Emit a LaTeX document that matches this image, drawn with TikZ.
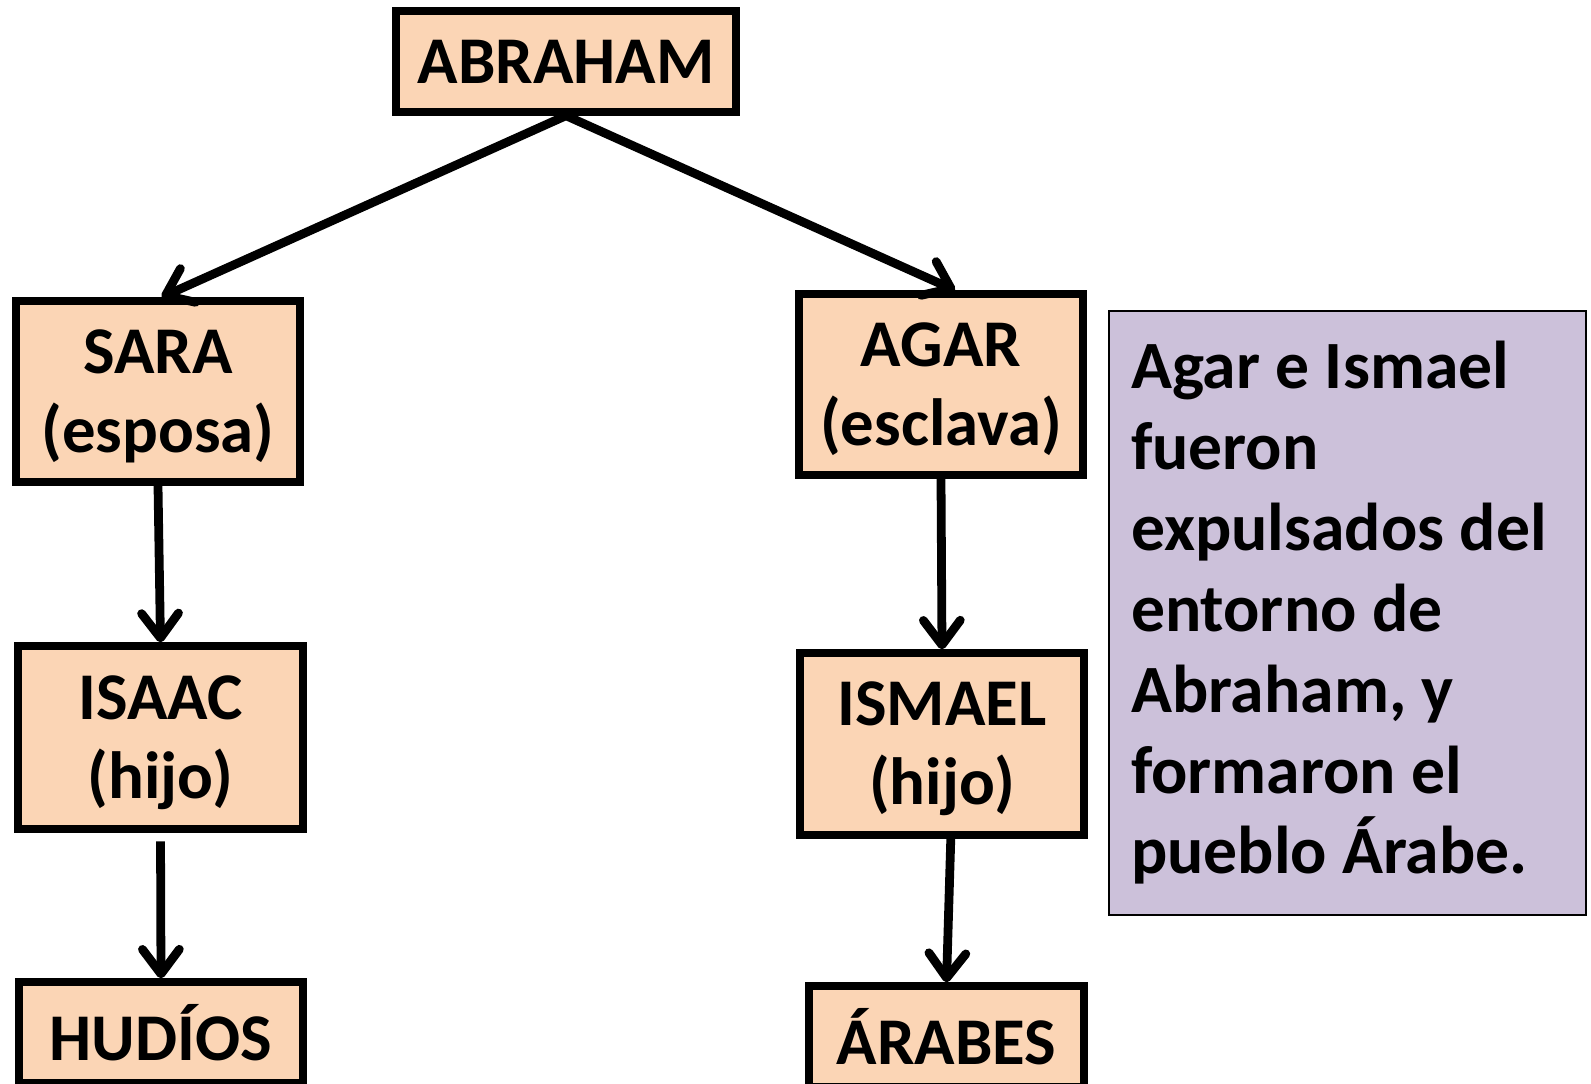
\documentclass[tikz,border=0pt]{standalone}
\usepackage{fontspec}
\setmainfont{Carlito}
\usepackage{xcolor}
\usetikzlibrary{arrows.meta}
\definecolor{peach}{HTML}{FBD5B5}
\definecolor{lilac}{HTML}{CCC1DA}
\tikzset{
	famnode/.style={draw,line width=4.2pt,fill=peach,align=center,inner sep=0pt,
		font=\bfseries\fontsize{38}{45}\selectfont},
	twoline/.style={famnode,text depth=0.5pt},
	descent/.style={line width=5pt,-{Straight Barb[length=14pt,width=21pt,round]}},
	notebox/.style={draw,line width=1.1pt,fill=lilac,align=flush left,inner xsep=0.44cm,
		font=\bfseries\fontsize{38.5}{46}\selectfont}
}
\begin{document}
\begin{tikzpicture}[x=0.02cm,y=-0.02cm]
	\useasboundingbox (0,0) rectangle (1591,1084);
	\node[famnode,minimum width=6.8cm,minimum height=2.02cm] (abraham) at (566,61.5) {ABRAHAM};
	\node[twoline,minimum width=5.68cm,minimum height=3.62cm] (sara) at (158,391.5) {SARA\\(esposa)};
	\node[twoline,minimum width=5.68cm,minimum height=3.62cm] (agar) at (941,384.5) {AGAR\\(esclava)};
	\node[twoline,minimum width=5.7cm,minimum height=3.66cm] (isaac) at (160.5,737.5) {ISAAC\\(hijo)};
	\node[twoline,minimum width=5.68cm,minimum height=3.64cm] (ismael) at (942,744) {ISMAEL\\(hijo)};
	\node[famnode,minimum width=5.68cm,minimum height=2.02cm] (hudios) at (161,1032.5) {HUDÍOS};
	\node[famnode,minimum width=5.5cm,minimum height=2.02cm] (arabes) at (946.5,1036.5) {ÁRABES};
	\node[notebox,text width=8.66cm,minimum width=9.54cm,minimum height=12.08cm] (nota) at (1347.5,613)
		{Agar e Ismael\\fueron\\expulsados del\\entorno de\\Abraham, y\\formaron el\\pueblo Árabe.};
	\draw[descent] (abraham.south) -- ([xshift=2pt]sara.north);
	\draw[descent] (abraham.south) -- ([xshift=8pt]agar.north);
	\draw[descent] (sara.south) -- (isaac.north);
	\draw[descent] (agar.south) -- (ismael.north);
	\draw[descent,shorten <=5pt] (isaac.south) -- (hudios.north);
	\draw[descent] ([xshift=5pt]ismael.south) -- (arabes.north);
\end{tikzpicture}
\end{document}
